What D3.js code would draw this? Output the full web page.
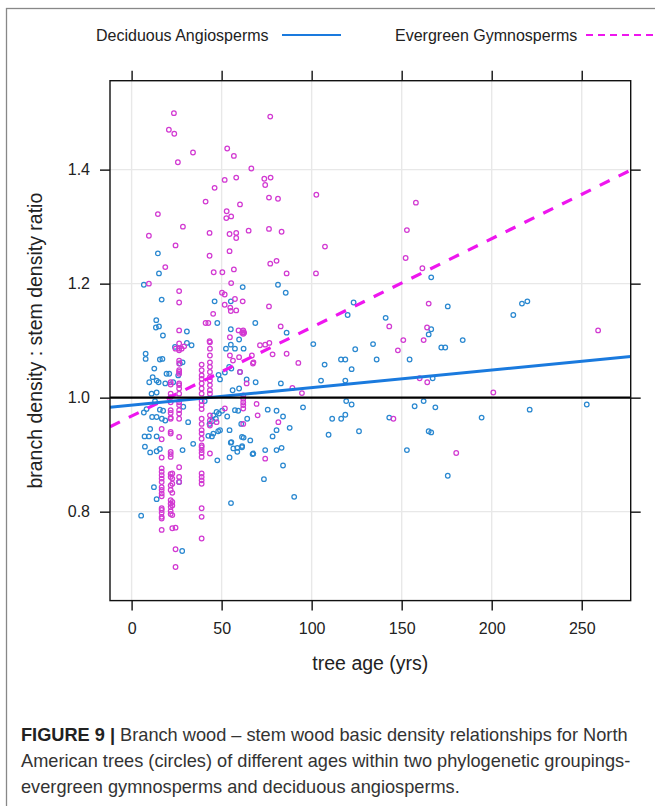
<!DOCTYPE html>
<html>
<head>
<meta charset="utf-8">
<script src="https://cdn.jsdelivr.net/npm/d3@7"></script>
<style>
  body { margin: 0; background: #fff; }
  svg { display: block; }
</style>
</head>
<body>
<svg id="chart" width="655" height="806"></svg>
<script>
// ---------------- DATA ----------------
const seriesNames = ["Deciduous Angiosperms", "Evergreen Gymnosperms"];
const xTicks = [0, 50, 100, 150, 200, 250];
const yTicks = [0.8, 1.0, 1.2, 1.4];
const yTickLabels = ["0.8", "1.0", "1.2", "1.4"];
const xTitle = "tree age (yrs)";
const yTitle = "branch density : stem density ratio";
const xDomain = [-12, 277.2];
const yDomain = [0.644, 1.556];
const referenceRatio = 1.0;
// regression fits: [intercept, slope]
const decidFit = [0.9867, 0.000308];
const everFit = [0.9677, 0.001556];

// Deciduous angiosperms: [age, ratio]
const decidPoints = [
  [14.6,1.253],[15.2,1.218],[6.8,1.198],[16.7,1.172],[81.3,1.198],[85.6,1.184],[61.7,1.194],[46.1,1.169],
  [55.1,1.169],[13.7,1.136],[13.5,1.123],[15.2,1.125],[17.4,1.109],[30.7,1.116],[47.6,1.131],[55.1,1.120],
  [68.7,1.131],[86.1,1.114],[100.9,1.094],[30.7,1.096],[33.3,1.092],[52.4,1.086],[57.4,1.086],[62.2,1.086],
  [55.1,1.093],
  [166.4,1.211],[123.3,1.167],[120.0,1.145],[175.6,1.160],[141.1,1.140],[212.0,1.145],[216.8,1.165],[219.8,1.169],
  [166.4,1.120],[165.0,1.111],[134.1,1.094],[183.9,1.101],[124.2,1.085],[172.0,1.088],[174.2,1.088],
  [107.2,1.058],[116.3,1.067],[118.7,1.067],[136.1,1.067],[122.2,1.050],[105.2,1.030],[118.7,1.030],[154.4,1.067],
  [167.2,1.034],[95.2,0.983],[119.2,0.994],[122.2,0.988],[111.4,0.963],[116.4,0.963],[118.7,0.970],[109.4,0.935],
  [126.3,0.941],[143.1,0.965],[157.2,0.985],[162.2,0.994],[168.7,0.983],[165.0,0.941],[166.4,0.939],[152.9,0.908],
  [175.6,0.863],[194.4,0.965],[221.1,0.979],[252.8,0.988],
  [5.3,0.793],[28.1,0.731],[55.2,0.815],[90.3,0.826],[73.5,0.857],[84.1,0.881],[47.6,0.890],[54.4,0.895],
  [67.2,0.901],[74.2,0.908],[80.5,0.908],[83.3,0.912],[58.7,0.905],[61.4,0.915],[87.8,0.947],[78.3,0.932],
  [80.5,0.943],[84.1,0.967],[80.5,0.977],[75.6,0.979],[62.2,0.930],[55.1,0.921],[58.7,0.912],[54.4,0.943],
  [48.1,0.941],[42.6,0.933],[44.6,0.932],[34.2,0.919],[28.3,0.908],[31.4,0.957],[43.3,0.954],[44.8,0.959],
  [46.8,0.963],[48.5,0.972],[50.3,0.977],[53.1,0.967],[59.2,0.977],[64.2,0.963],[60.9,0.954],[7.2,0.932],
  [9.6,0.932],[13.9,0.932],[10.3,0.945],[7.4,0.914],[10.3,0.904],[13.9,0.906],[15.7,0.910],[12.4,0.843],
  [13.9,0.822],[26.4,0.852],[16.8,0.963],[18.7,0.960],[13.9,0.966],[11.4,0.966],[6.8,0.974],[8.3,0.980],
  [15.7,0.979],[17.5,0.977],[13.0,0.994],[11.1,1.007],[13.9,1.009],[15.0,1.027],[18.7,1.025],[19.4,1.042],
  [9.8,1.027],[11.7,1.036],[12.6,1.051],[13.9,1.030],[7.8,1.077],[7.8,1.068],[15.7,1.067],[17.1,1.068],
  [24.1,1.089],[20.9,1.042],[23.1,1.027],[25.9,1.039],[26.8,1.060],[28.3,1.062],[40.6,0.994],[48.3,1.040],
  [49.1,1.032],[51.8,1.044],[54.2,1.054],[59.7,1.102],[56.1,1.013],[59.7,1.016],[63.9,1.032],[68.9,1.027],
  [82.9,1.025],[55.4,1.051],[60.2,1.045],[45.4,0.969],[47.2,0.975],[57.4,0.978],[45.4,0.937],[49.1,0.943],
  [55.4,0.922],[56.5,0.911],[61.3,0.931],[65.9,0.925],[67.6,0.902],[61.3,0.913],[28.7,0.984]
];

// Evergreen gymnosperms: [age, ratio]
const everPoints = [
  [23.5,1.499],[20.7,1.470],[23.7,1.463],[25.7,1.413],[34.1,1.430],[53.1,1.437],[56.8,1.424],[77.0,1.493],
  [66.5,1.402],[51.7,1.382],[58.1,1.386],[46.1,1.368],[41.1,1.344],[52.8,1.327],[52.6,1.315],[55.3,1.318],
  [60.2,1.339],[73.7,1.384],[77.2,1.386],[74.2,1.373],[76.3,1.351],[81.3,1.349],[102.6,1.356],[14.6,1.322],
  [9.6,1.284],[28.5,1.300],[43.3,1.289],[54.4,1.287],[58.1,1.289],[58.1,1.280],[65.0,1.293],[76.3,1.296],
  [83.3,1.291],[107.4,1.265],[24.4,1.267],[54.4,1.257],[43.3,1.249],[18.7,1.229],[45.6,1.220],[50.4,1.220],
  [56.8,1.225],[77.0,1.235],[80.5,1.240],[86.1,1.218],[102.4,1.218],[9.6,1.200],[55.3,1.201],[26.4,1.187],
  [26.4,1.167],[50.2,1.184],[51.7,1.181],[57.4,1.173],[61.7,1.169],[51.7,1.163],[54.8,1.158],[55.1,1.152],
  [58.1,1.153],[45.3,1.147],[76.3,1.160],[41.1,1.131],[42.6,1.131],[26.4,1.118],[59.4,1.118],[61.4,1.114],
  [62.5,1.114],[54.6,1.106],[43.3,1.099],[82.8,1.125],[71.3,1.092],[74.2,1.093],[76.5,1.096],[24.4,1.086],
  [27.8,1.086],[29.2,1.090],
  [157.9,1.342],[152.9,1.294],[152.2,1.245],[161.5,1.227],[165.0,1.165],[143.1,1.125],[164.1,1.123],[150.9,1.101],
  [162.2,1.101],[259.1,1.118],[147.9,1.083],[160.0,1.034],[164.2,1.027],[200.9,1.009],[145.4,0.963],[180.3,0.903],
  [94.6,1.008],
  [16.7,0.945],[16.7,0.927],[16.7,0.895],[16.7,0.876],[16.7,0.870],[16.7,0.864],[16.7,0.858],[16.7,0.852],
  [16.7,0.843],[16.7,0.838],[16.7,0.832],[16.7,0.827],[16.7,0.806],[16.7,0.803],[16.7,0.798],[16.7,0.791],
  [16.7,0.788],[16.7,0.768],
  [21.7,1.027],[21.7,1.023],[21.7,1.007],[21.7,1.001],[21.7,0.992],[21.7,0.978],[21.7,0.973],[21.7,0.965],
  [21.7,0.963],[21.7,0.940],[21.7,0.937],[21.7,0.905],[21.7,0.901],[21.7,0.896],[21.7,0.866],[21.7,0.861],
  [21.7,0.846],[21.7,0.838],[21.7,0.820],[21.7,0.814],[21.7,0.808],[21.7,0.801],[21.7,0.796],
  [22.6,0.867],[22.6,0.858],[22.6,0.849],[22.6,0.833],[22.6,0.817],[22.6,0.811],[22.6,0.794],[22.6,0.771],
  [24.4,0.734],[24.4,0.703],[24.4,0.772],
  [26.4,1.095],[26.4,1.086],[26.4,1.083],[26.4,1.065],[26.4,1.060],[26.4,1.048],[26.4,1.045],[26.4,1.042],
  [26.4,1.025],[26.4,1.022],[26.4,1.016],[26.4,1.007],[26.4,0.992],[26.4,0.987],[26.4,0.978],[26.4,0.972],
  [26.4,0.963],[26.4,0.931],[26.4,0.878],[26.4,0.861],[26.4,0.852],
  [38.9,1.058],[38.9,1.048],[38.9,1.039],[38.9,1.033],[38.9,1.025],[38.9,1.016],[38.9,1.007],[38.9,0.994],
  [38.9,0.987],[38.9,0.980],[38.9,0.963],[38.9,0.954],[38.9,0.943],[38.9,0.937],[38.9,0.928],[38.9,0.916],
  [38.9,0.913],[38.9,0.908],[38.9,0.903],[38.9,0.896],[38.9,0.867],[38.9,0.861],[38.9,0.855],[38.9,0.849],
  [38.9,0.806],[38.9,0.791],[38.9,0.753],
  [43.5,1.097],[43.5,1.086],[43.5,1.074],[43.5,1.062],[43.5,1.054],[43.5,1.045],[43.5,1.036],[43.5,1.030],
  [43.5,1.022],[43.5,1.013],[43.5,1.007],[43.5,0.969],[43.5,0.960],[43.5,0.951],[43.5,0.902],
  [62.0,1.118],[62.0,1.115],[62.0,1.112],[62.0,1.004],[62.0,0.998],[62.0,0.992],[62.0,0.987],[62.0,0.981],
  [62.0,0.954],
  [54.6,1.074],[56.3,1.065],[59.7,1.071],[60.2,1.045],[63.9,1.025],[67.4,1.060],[70.0,0.969],[69.4,0.989],
  [74.2,0.893],[81.5,0.957],[78.3,1.076],[86.1,1.077],[92.6,1.061],[89.3,1.017],[47.2,0.957],[51.8,0.981],
  [66.8,1.074],[67.7,1.062]
];

const captionBold = "FIGURE 9 |";
const captionLines = [
  " Branch wood \u2013 stem wood basic density relationships for North",
  "American trees (circles) of different ages within two phylogenetic groupings-",
  "evergreen gymnosperms and deciduous angiosperms."
];

// ---------------- STYLE / LAYOUT ----------------
const colDecid = "#1a7ade", colEver = "#ee16ee";
const ptDecid = "#2a88d0", ptEver = "#d23ad2";
const font = "'Liberation Sans', Arial, sans-serif";
const P = { left: 110, right: 630.7, top: 80.7, bottom: 600.6 };

const svg = d3.select("#chart");
svg.append("rect").attr("width", 655).attr("height", 806).attr("fill", "#fff");

// outer figure frame (only left and top visible)
svg.append("rect").attr("x", 6.5).attr("y", 8.5).attr("width", 700).attr("height", 900)
  .attr("fill", "none").attr("stroke", "#888").attr("stroke-width", 1.3);

const x = d3.scaleLinear().domain(xDomain).range([P.left, P.right]);
const y = d3.scaleLinear().domain(yDomain).range([P.bottom, P.top]);

// grid
const grid = svg.append("g");
grid.selectAll("line.gx").data(xTicks).join("line")
  .attr("x1", d => x(d)).attr("x2", d => x(d)).attr("y1", P.top).attr("y2", P.bottom)
  .attr("stroke", "#e8e8e8").attr("stroke-width", 1.4);
grid.selectAll("line.gy").data(yTicks).join("line")
  .attr("y1", d => y(d)).attr("y2", d => y(d)).attr("x1", P.left).attr("x2", P.right)
  .attr("stroke", "#e8e8e8").attr("stroke-width", 1.4);

// clip
svg.append("clipPath").attr("id", "clip").append("rect")
  .attr("x", P.left).attr("y", P.top).attr("width", P.right - P.left).attr("height", P.bottom - P.top);
const panel = svg.append("g").attr("clip-path", "url(#clip)");

// points
panel.append("g").selectAll("circle").data(decidPoints).join("circle")
  .attr("cx", d => x(d[0])).attr("cy", d => y(d[1])).attr("r", 2.3)
  .attr("fill", "none").attr("stroke", ptDecid).attr("stroke-width", 1.25);
panel.append("g").selectAll("circle").data(everPoints).join("circle")
  .attr("cx", d => x(d[0])).attr("cy", d => y(d[1])).attr("r", 2.3)
  .attr("fill", "none").attr("stroke", ptEver).attr("stroke-width", 1.25);

// regression lines
const line = d3.line().x(d => x(d[0])).y(d => y(d[1]));
const fitPts = f => xDomain.map(a => [a, f[0] + f[1] * a]);
panel.append("path").attr("d", line(fitPts(everFit))).attr("fill", "none")
  .attr("stroke", colEver).attr("stroke-width", 3.2).attr("stroke-dasharray", "11,10");
panel.append("path").attr("d", line(fitPts(decidFit))).attr("fill", "none")
  .attr("stroke", colDecid).attr("stroke-width", 3);
// reference line
panel.append("line").attr("x1", P.left).attr("x2", P.right)
  .attr("y1", y(referenceRatio)).attr("y2", y(referenceRatio))
  .attr("stroke", "#000").attr("stroke-width", 2.4);

// panel frame
svg.append("rect").attr("x", P.left).attr("y", P.top)
  .attr("width", P.right - P.left).attr("height", P.bottom - P.top)
  .attr("fill", "none").attr("stroke", "#111").attr("stroke-width", 1.4);

// axes
function styleAxis(g) {
  g.select(".domain").remove();
  g.selectAll(".tick line").attr("stroke", "#111").attr("stroke-width", 1.4);
  g.selectAll(".tick text").attr("fill", "#222").style("font-family", font).style("font-size", "16px");
}
svg.append("g").attr("transform", `translate(0,${P.bottom})`)
  .call(d3.axisBottom(x).tickValues(xTicks).tickSize(10).tickPadding(12).tickFormat(d3.format("d")))
  .call(styleAxis);
svg.append("g").attr("transform", `translate(0,${P.top})`)
  .call(d3.axisTop(x).tickValues(xTicks).tickSize(10).tickFormat(""))
  .call(styleAxis);
svg.append("g").attr("transform", `translate(${P.left},0)`)
  .call(d3.axisLeft(y).tickValues(yTicks).tickSize(10).tickPadding(10).tickFormat((d, i) => yTickLabels[i]))
  .call(styleAxis);
svg.append("g").attr("transform", `translate(${P.right},0)`)
  .call(d3.axisRight(y).tickValues(yTicks).tickSize(10).tickFormat(""))
  .call(styleAxis);

// axis titles
svg.append("text").attr("x", (P.left + P.right) / 2).attr("y", 670)
  .attr("text-anchor", "middle").attr("fill", "#222")
  .style("font-family", font).style("font-size", "19.5px").text(xTitle);
svg.append("text").attr("transform", `translate(42,${(P.top + P.bottom) / 2}) rotate(-90)`)
  .attr("text-anchor", "middle").attr("fill", "#222")
  .style("font-family", font).style("font-size", "19.5px").text(yTitle);

// legend
const leg = svg.append("g").style("font-family", font).style("font-size", "16px");
leg.append("text").attr("x", 96).attr("y", 40.5).attr("fill", "#222").text(seriesNames[0]);
leg.append("line").attr("x1", 282).attr("x2", 341).attr("y1", 35).attr("y2", 35)
  .attr("stroke", colDecid).attr("stroke-width", 2);
leg.append("text").attr("x", 395).attr("y", 40.5).attr("fill", "#222").text(seriesNames[1]);
leg.append("line").attr("x1", 586).attr("x2", 660).attr("y1", 35).attr("y2", 35)
  .attr("stroke", colEver).attr("stroke-width", 2).attr("stroke-dasharray", "7,5");

// caption
const cap = svg.append("g").style("font-family", font).style("font-size", "18.2px").attr("fill", "#333");
const t1 = cap.append("text").attr("x", 21).attr("y", 741);
t1.append("tspan").style("font-weight", "bold").attr("fill", "#222").text(captionBold);
t1.append("tspan").text(captionLines[0]);
cap.append("text").attr("x", 21).attr("y", 767).text(captionLines[1]);
cap.append("text").attr("x", 21).attr("y", 793).text(captionLines[2]);
</script>
</body>
</html>
